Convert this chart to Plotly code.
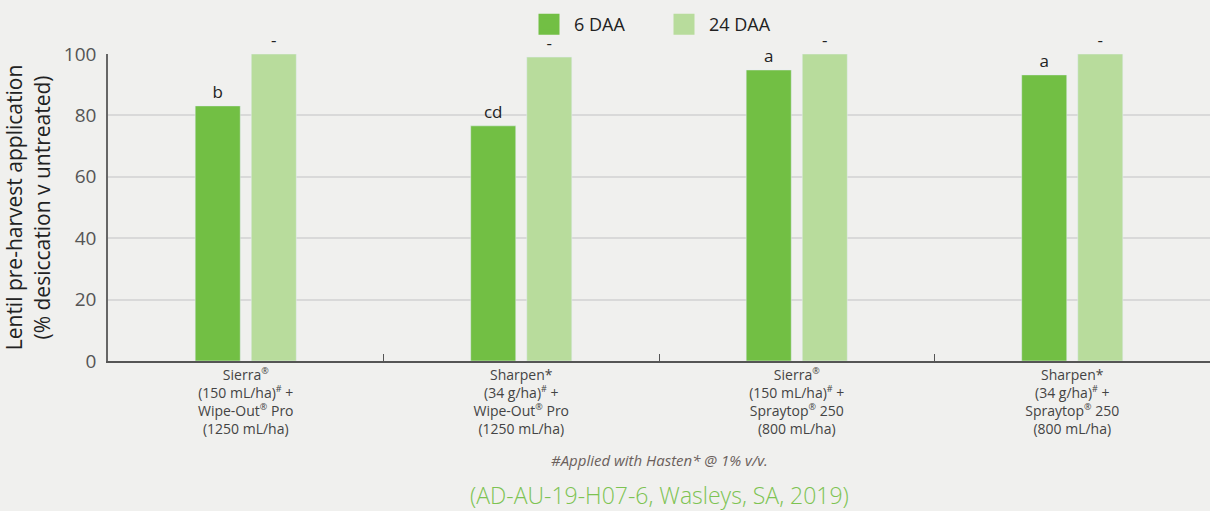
import plotly.graph_objects as go

SUP = '<span style="font-size:9px;baseline-shift:super">{}</span>'
categories = [
    "Sierra" + SUP.format("®") + "<br>(150 mL/ha)" + SUP.format("#") + " +<br>Wipe-Out" + SUP.format("®") + " Pro<br>(1250 mL/ha)",
    "Sharpen*<br>(34 g/ha)" + SUP.format("#") + " +<br>Wipe-Out" + SUP.format("®") + " Pro<br>(1250 mL/ha)",
    "Sierra" + SUP.format("®") + "<br>(150 mL/ha)" + SUP.format("#") + " +<br>Spraytop" + SUP.format("®") + " 250<br>(800 mL/ha)",
    "Sharpen*<br>(34 g/ha)" + SUP.format("#") + " +<br>Spraytop" + SUP.format("®") + " 250<br>(800 mL/ha)",
]
daa6 = [83.1, 76.6, 94.8, 93.2]
daa24 = [100, 99.0, 100, 100]
labels6 = ["b", "cd", "a", "a"]
labels24 = ["-", "-", "-", "-"]
series_names = ["6 DAA", "24 DAA"]
yticks = [0, 20, 40, 60, 80, 100]

C6 = "#72bf44"
C24 = "#b8dc9c"
FONT = "Open Sans"
BG = "#f0f0ee"

fig = go.Figure()
fig.add_trace(go.Bar(x=categories, y=daa6, name=series_names[0], marker_color=C6,
                     text=labels6, textposition="outside", cliponaxis=False,
                     textfont=dict(size=17, color="#222", family=FONT), showlegend=False))
fig.add_trace(go.Bar(x=categories, y=daa24, name=series_names[1], marker_color=C24,
                     text=labels24, textposition="outside", cliponaxis=False,
                     textfont=dict(size=17, color="#222", family=FONT), showlegend=False))
for nm, c in zip(series_names, [C6, C24]):
    fig.add_trace(go.Scatter(x=[None], y=[None], mode="markers", name=nm,
                             marker=dict(symbol="square", size=16, color=c,
                                         line=dict(color=c, width=5))))

fig.update_layout(
    width=1210, height=511,
    paper_bgcolor=BG, plot_bgcolor=BG,
    margin=dict(l=108, r=0, t=54, b=150),
    barmode="group", bargap=0.593, bargroupgap=0.196,
    font=dict(family=FONT, color="#444"),
    legend=dict(orientation="h", x=0.5, xanchor="center", y=1.096, yanchor="middle",
                font=dict(size=18, color="#222", family=FONT), bgcolor="rgba(0,0,0,0)",
                itemsizing="trace", itemwidth=40, entrywidth=80, entrywidthmode="pixels"),
    xaxis=dict(tickfont=dict(size=14, color="#444", family=FONT), showline=True,
               linecolor="#555", linewidth=1.5, ticks="inside", tickson="boundaries",
               ticklen=7, tickcolor="#555", showgrid=False),
    yaxis=dict(range=[0, 100], tickvals=yticks, showline=True, linecolor="#666", linewidth=1.5,
               gridcolor="#d9d9d9", gridwidth=1.5, zeroline=False,
               tickfont=dict(size=19, color="#555", family=FONT), ticks="", ticklabelstandoff=6,
               title=dict(text="Lentil pre-harvest application<br>(% desiccation v untreated)",
                          font=dict(size=21, color="#222", family=FONT), standoff=8)),
    annotations=[
        dict(text="<i>#Applied with Hasten* @ 1% v/v.</i>", x=0.5, xref="paper", y=-0.324,
             yref="paper", yanchor="middle", showarrow=False,
             font=dict(size=15, color="#6b605c", family=FONT)),
        dict(text="(AD-AU-19-H07-6, Wasleys, SA, 2019)", x=0.5, xref="paper", y=-0.436,
             yref="paper", yanchor="middle", showarrow=False,
             font=dict(size=23, color="#7dc352", family=FONT, weight=300)),
    ],
)
fig.write_html("out.html", config={"displayModeBar": False},
               post_script="document.body.style.margin='0';")
